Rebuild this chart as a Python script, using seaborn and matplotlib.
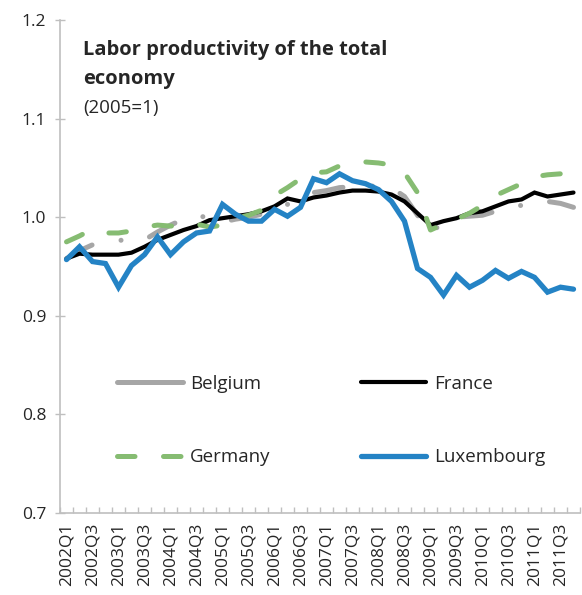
import numpy as np
import pandas as pd
import matplotlib
matplotlib.use("Agg")
import matplotlib.pyplot as plt
from matplotlib.lines import Line2D
from matplotlib.ticker import MultipleLocator, FormatStrFormatter
import seaborn as sns

# quarters 2002Q1 .. 2011Q4
quarters = [f"{y}Q{q}" for y in range(2002, 2012) for q in range(1, 5)]

belgium = [0.958, 0.966, 0.972, 0.975, 0.977, 0.975, 0.977, 0.985, 0.992, 0.998,
           1.002, 0.999, 0.995, 0.998, 1.000, 1.003, 1.008, 1.013, 1.018, 1.025,
           1.027, 1.030, 1.031, 1.031, 1.032, 1.030, 1.021, 1.002, 0.984, 0.995,
           1.000, 1.001, 1.002, 1.006, 1.010, 1.012, 1.016, 1.016, 1.014, 1.010]
france = [0.958, 0.963, 0.962, 0.962, 0.962, 0.964, 0.970, 0.977, 0.982, 0.987,
          0.991, 0.997, 0.999, 1.001, 1.003, 1.006, 1.011, 1.019, 1.016, 1.020,
          1.022, 1.025, 1.027, 1.027, 1.026, 1.023, 1.016, 1.004, 0.992, 0.996,
          0.999, 1.004, 1.006, 1.011, 1.016, 1.018, 1.025, 1.021, 1.023, 1.025]
germany = [0.975, 0.981, 0.988, 0.984, 0.984, 0.986, 0.990, 0.992, 0.991, 0.992,
           0.993, 0.990, 0.992, 0.999, 1.002, 1.007, 1.022, 1.030, 1.039, 1.045,
           1.046, 1.052, 1.055, 1.056, 1.055, 1.053, 1.045, 1.025, 0.987, 0.993,
           0.998, 1.004, 1.012, 1.022, 1.028, 1.034, 1.041, 1.043, 1.044, 1.047]
luxembourg = [0.957, 0.970, 0.955, 0.953, 0.929, 0.951, 0.962, 0.980, 0.962, 0.975,
              0.984, 0.986, 1.013, 1.003, 0.996, 0.996, 1.008, 1.001, 1.010, 1.039,
              1.035, 1.044, 1.037, 1.034, 1.028, 1.016, 0.996, 0.948, 0.939, 0.921,
              0.941, 0.929, 0.936, 0.946, 0.938, 0.945, 0.939, 0.924, 0.929, 0.927]

df = pd.DataFrame({"pos": np.arange(len(quarters)), "quarter": quarters,
                   "Belgium": belgium, "France": france,
                   "Germany": germany, "Luxembourg": luxembourg})

sns.set_style("white")
plt.rcParams["font.family"] = ["Open Sans", "DejaVu Sans"]

fig = plt.figure(figsize=(5.82, 5.95), dpi=100)
ax = fig.add_axes([60/582, 1 - 513/595, 520/582, 493/595])

grey = "#A6A6A6"
green = "#86BC72"
blue = "#2483C5"

sns.lineplot(data=df, x="pos", y="Belgium", ax=ax, color=grey, lw=3.6,
             linestyle=(0, (5.8, 5.9, 0.01, 5.9)), dash_capstyle="round",
             solid_capstyle="round")
sns.lineplot(data=df, x="pos", y="France", ax=ax, color="black", lw=3.0,
             solid_joinstyle="miter")
sns.lineplot(data=df, x="pos", y="Germany", ax=ax, color=green, lw=3.6,
             linestyle=(0, (3.5, 5.7)), dash_capstyle="round")
sns.lineplot(data=df, x="pos", y="Luxembourg", ax=ax, color=blue, lw=3.8,
             solid_joinstyle="miter")

ax.set_xlim(-0.5, len(quarters) - 0.5)
ax.set_ylim(0.7, 1.2)
ax.set_xlabel("")
ax.set_ylabel("")

ax.set_xticks(df["pos"][::2])
ax.set_xticklabels(quarters[::2], rotation=90, fontsize=12.5)
ax.set_xticks(np.arange(-0.5, len(quarters)), minor=True)
ax.tick_params(axis="x", which="major", length=0, pad=7)
ax.tick_params(axis="x", which="minor", direction="in", length=4,
               width=1, color="#BFBFBF", bottom=True)

ax.yaxis.set_major_locator(MultipleLocator(0.1))
ax.yaxis.set_major_formatter(FormatStrFormatter("%.1f"))
ax.tick_params(axis="y", direction="inout", length=7, width=1,
               color="#BFBFBF", labelsize=12.5, pad=24, left=True)
for lab in ax.get_yticklabels():
    lab.set_horizontalalignment("left")

for s in ["top", "right"]:
    ax.spines[s].set_visible(False)
for s in ["left", "bottom"]:
    ax.spines[s].set_color("#BFBFBF")
    ax.spines[s].set_linewidth(1.2)

fig.text(83/582, 1 - 50/595, "Labor productivity of the total",
         fontsize=14.5, fontweight="bold", va="center", ha="left")
fig.text(83/582, 1 - 79/595, "economy",
         fontsize=14.5, fontweight="bold", va="center", ha="left")
fig.text(83/582, 1 - 108/595, "(2005=1)", fontsize=13.5, va="center", ha="left")

handles = [
    Line2D([], [], color=grey, lw=3.6, solid_capstyle="round"),
    Line2D([], [], color="black", lw=3.0),
    Line2D([], [], color=green, lw=3.6, linestyle=(0, (3.5, 5.7)),
           dash_capstyle="round"),
    Line2D([], [], color=blue, lw=3.8, solid_capstyle="round"),
]
labels = ["Belgium", "France", "Germany", "Luxembourg"]
# order for ncol=2 fills column-wise
order = [0, 2, 1, 3]
ax.legend([handles[i] for i in order], [labels[i] for i in order],
          ncol=2, frameon=False, fontsize=13.5, handlelength=3.5,
          handletextpad=0.4, columnspacing=4.8, labelspacing=2.95,
          borderpad=0, borderaxespad=0, loc="upper left",
          bbox_to_anchor=(117/582, 1 - 375/595), bbox_transform=fig.transFigure)

plt.savefig("out.png", dpi=100)
